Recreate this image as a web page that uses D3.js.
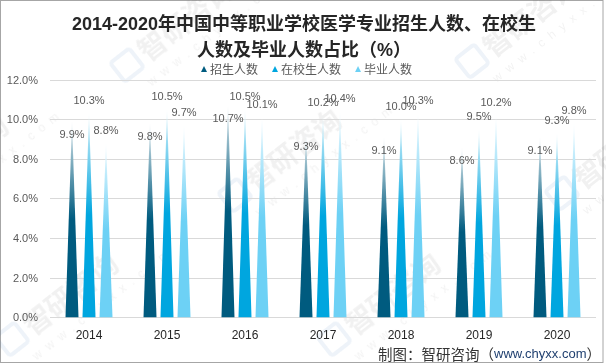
<!DOCTYPE html>
<html><head><meta charset="utf-8">
<script src="https://cdn.jsdelivr.net/npm/d3@7"></script>
<style>
html,body{margin:0;padding:0;background:#fff;}
svg{display:block;}
text{font-family:"Liberation Sans","Noto Sans CJK SC",sans-serif;}
</style></head>
<body>
<svg id="chart" width="606" height="364"></svg>
<script>
const years = ["2014","2015","2016","2017","2018","2019","2020"];
const seriesNames = ["招生人数","在校生人数","毕业人数"];
const enroll = [9.9, 9.8, 10.7, 9.3, 9.1, 8.6, 9.1];
const inSchool = [10.3, 10.5, 10.5, 10.2, 10.0, 9.5, 9.3];
const graduates = [8.8, 9.7, 10.1, 10.4, 10.3, 10.2, 9.8];
const yTicks = [0, 2, 4, 6, 8, 10, 12];
const colors = ["#005B7F", "#00A6DF", "#6DD1F5"];
const titleLines = ["2014-2020年中国中等职业学校医学专业招生人数、在校生", "人数及毕业人数占比（%）"];

const seriesValues = [enroll, inSchool, graduates];
const svg = d3.select("#chart");

// border
svg.append("rect").attr("x",0.5).attr("y",0.5).attr("width",602.5).attr("height",362)
  .attr("fill","#fff").attr("stroke","#A6A6A6").attr("stroke-width",1);

// watermarks (faint)
const wm = [[125,82],[470,78],[233,212],[560,210],[10,356],[332,356],[-100,218]];
const wmLayer = svg.append("g").attr("opacity",0.08);
wm.forEach(([wx,wy]) => {
  const g = wmLayer.append("g").attr("transform",`translate(${wx},${wy}) rotate(-38)`);
  g.append("rect").attr("x",0).attr("y",-24).attr("width",24).attr("height",24).attr("rx",3)
    .attr("fill","none").attr("stroke","#2E6DB4").attr("stroke-width",4);
  g.append("text").attr("x",30).attr("y",-1).attr("font-size",28).attr("font-weight","bold")
    .attr("fill","#555").style("font-family","'Noto Sans CJK SC'").text("智研咨询");
  g.append("text").attr("x",18).attr("y",20).attr("font-size",12).attr("letter-spacing",7)
    .attr("fill","#666").text("www.chyxx.com");
});

// gradients
const defs = svg.append("defs");
colors.forEach((c,i) => {
  const lg = defs.append("linearGradient").attr("id","g"+i)
    .attr("x1",0).attr("y1",0).attr("x2",0).attr("y2",1);
  lg.append("stop").attr("offset","0").attr("stop-color", d3.interpolateRgb(c,"#fff")(0.95));
  lg.append("stop").attr("offset","0.18").attr("stop-color", d3.interpolateRgb(c,"#fff")(0.55));
  lg.append("stop").attr("offset","0.5").attr("stop-color", c);
  lg.append("stop").attr("offset","1").attr("stop-color", c);
});

// title
titleLines.forEach((t,i) => {
  svg.append("text").attr("x",304).attr("y", i===0 ? 23.5 : 49.5)
    .attr("text-anchor","middle").attr("dominant-baseline","central")
    .attr("font-size",18).attr("font-weight","bold").attr("fill","#262626").text(t);
});

// scales
const x = d3.scaleBand().domain(years).range([50,596]).padding(0);
const bw = x.bandwidth();
const x1 = d3.scaleBand().domain(seriesNames).range([bw/2-25.5, bw/2+25.5])
  .paddingInner(0.235).paddingOuter(0.1175);
const y = d3.scaleLinear().domain([0,12]).range([317.3,79.5]);

// grid
svg.append("g").selectAll("line").data(yTicks).join("line")
  .attr("x1",50).attr("x2",596).attr("y1",d=>Math.round(y(d))+0.5).attr("y2",d=>Math.round(y(d))+0.5)
  .attr("stroke","#D9D9D9").attr("stroke-width",1);

// y axis labels
svg.append("g").selectAll("text").data(yTicks).join("text")
  .attr("x",38).attr("y",d=>y(d)).attr("text-anchor","end").attr("dominant-baseline","central")
  .attr("font-size",11).attr("fill","#595959").text(d=>d.toFixed(1)+"%");

// x axis labels
svg.append("g").selectAll("text").data(years).join("text")
  .attr("x",d=>x(d)+bw/2).attr("y",335).attr("text-anchor","middle").attr("dominant-baseline","central")
  .attr("font-size",12).attr("fill","#262626").text(d=>d);

// triangles
const tw = x1.bandwidth();
seriesNames.forEach((s,si) => {
  const vals = seriesValues[si];
  const g = svg.append("g");
  g.selectAll("path").data(years).join("path")
    .attr("d",(yr,i) => {
      const cx = x(yr) + x1(s) + tw/2;
      return `M${cx-tw/2},${y(0)} L${cx},${y(vals[i])} L${cx+tw/2},${y(0)} Z`;
    })
    .attr("fill",`url(#g${si})`);
  g.selectAll("text").data(years).join("text")
    .attr("x",(yr)=>x(yr)+x1(s)+tw/2)
    .attr("y",(yr,i)=> si===0 ? y(vals[i])+13 : y(vals[i])-13)
    .attr("text-anchor","middle").attr("dominant-baseline","central")
    .attr("font-size",11).attr("fill","#595959")
    .text((yr,i)=>vals[i].toFixed(1)+"%");
});

// legend
let lx = 204;
const leg = svg.append("g");
seriesNames.forEach((s,i) => {
  leg.append("path").attr("d",`M${lx-3},${72} L${lx},${66} L${lx+3},${72} Z`).attr("fill",colors[i]);
  const t = leg.append("text").attr("x",lx+6).attr("y",68.5).attr("dominant-baseline","central")
    .attr("font-size",12).attr("fill","#595959").style("font-family","'Noto Sans CJK SC'").text(s);
  lx = lx + 6 + t.node().getComputedTextLength() + 17;
});

// source
const src = svg.append("text").attr("x",601).attr("y",352.5).attr("text-anchor","end")
  .attr("dominant-baseline","central").attr("font-size",14.5).attr("fill","#333")
  .style("font-family","'Noto Sans CJK SC'");
src.append("tspan").text("制图：智研咨询（");
src.append("tspan").attr("font-size",13).attr("fill","#1F3F6F").style("font-family","'Liberation Sans'").text("www.chyxx.com");
src.append("tspan").text("）");
</script>
</body></html>
